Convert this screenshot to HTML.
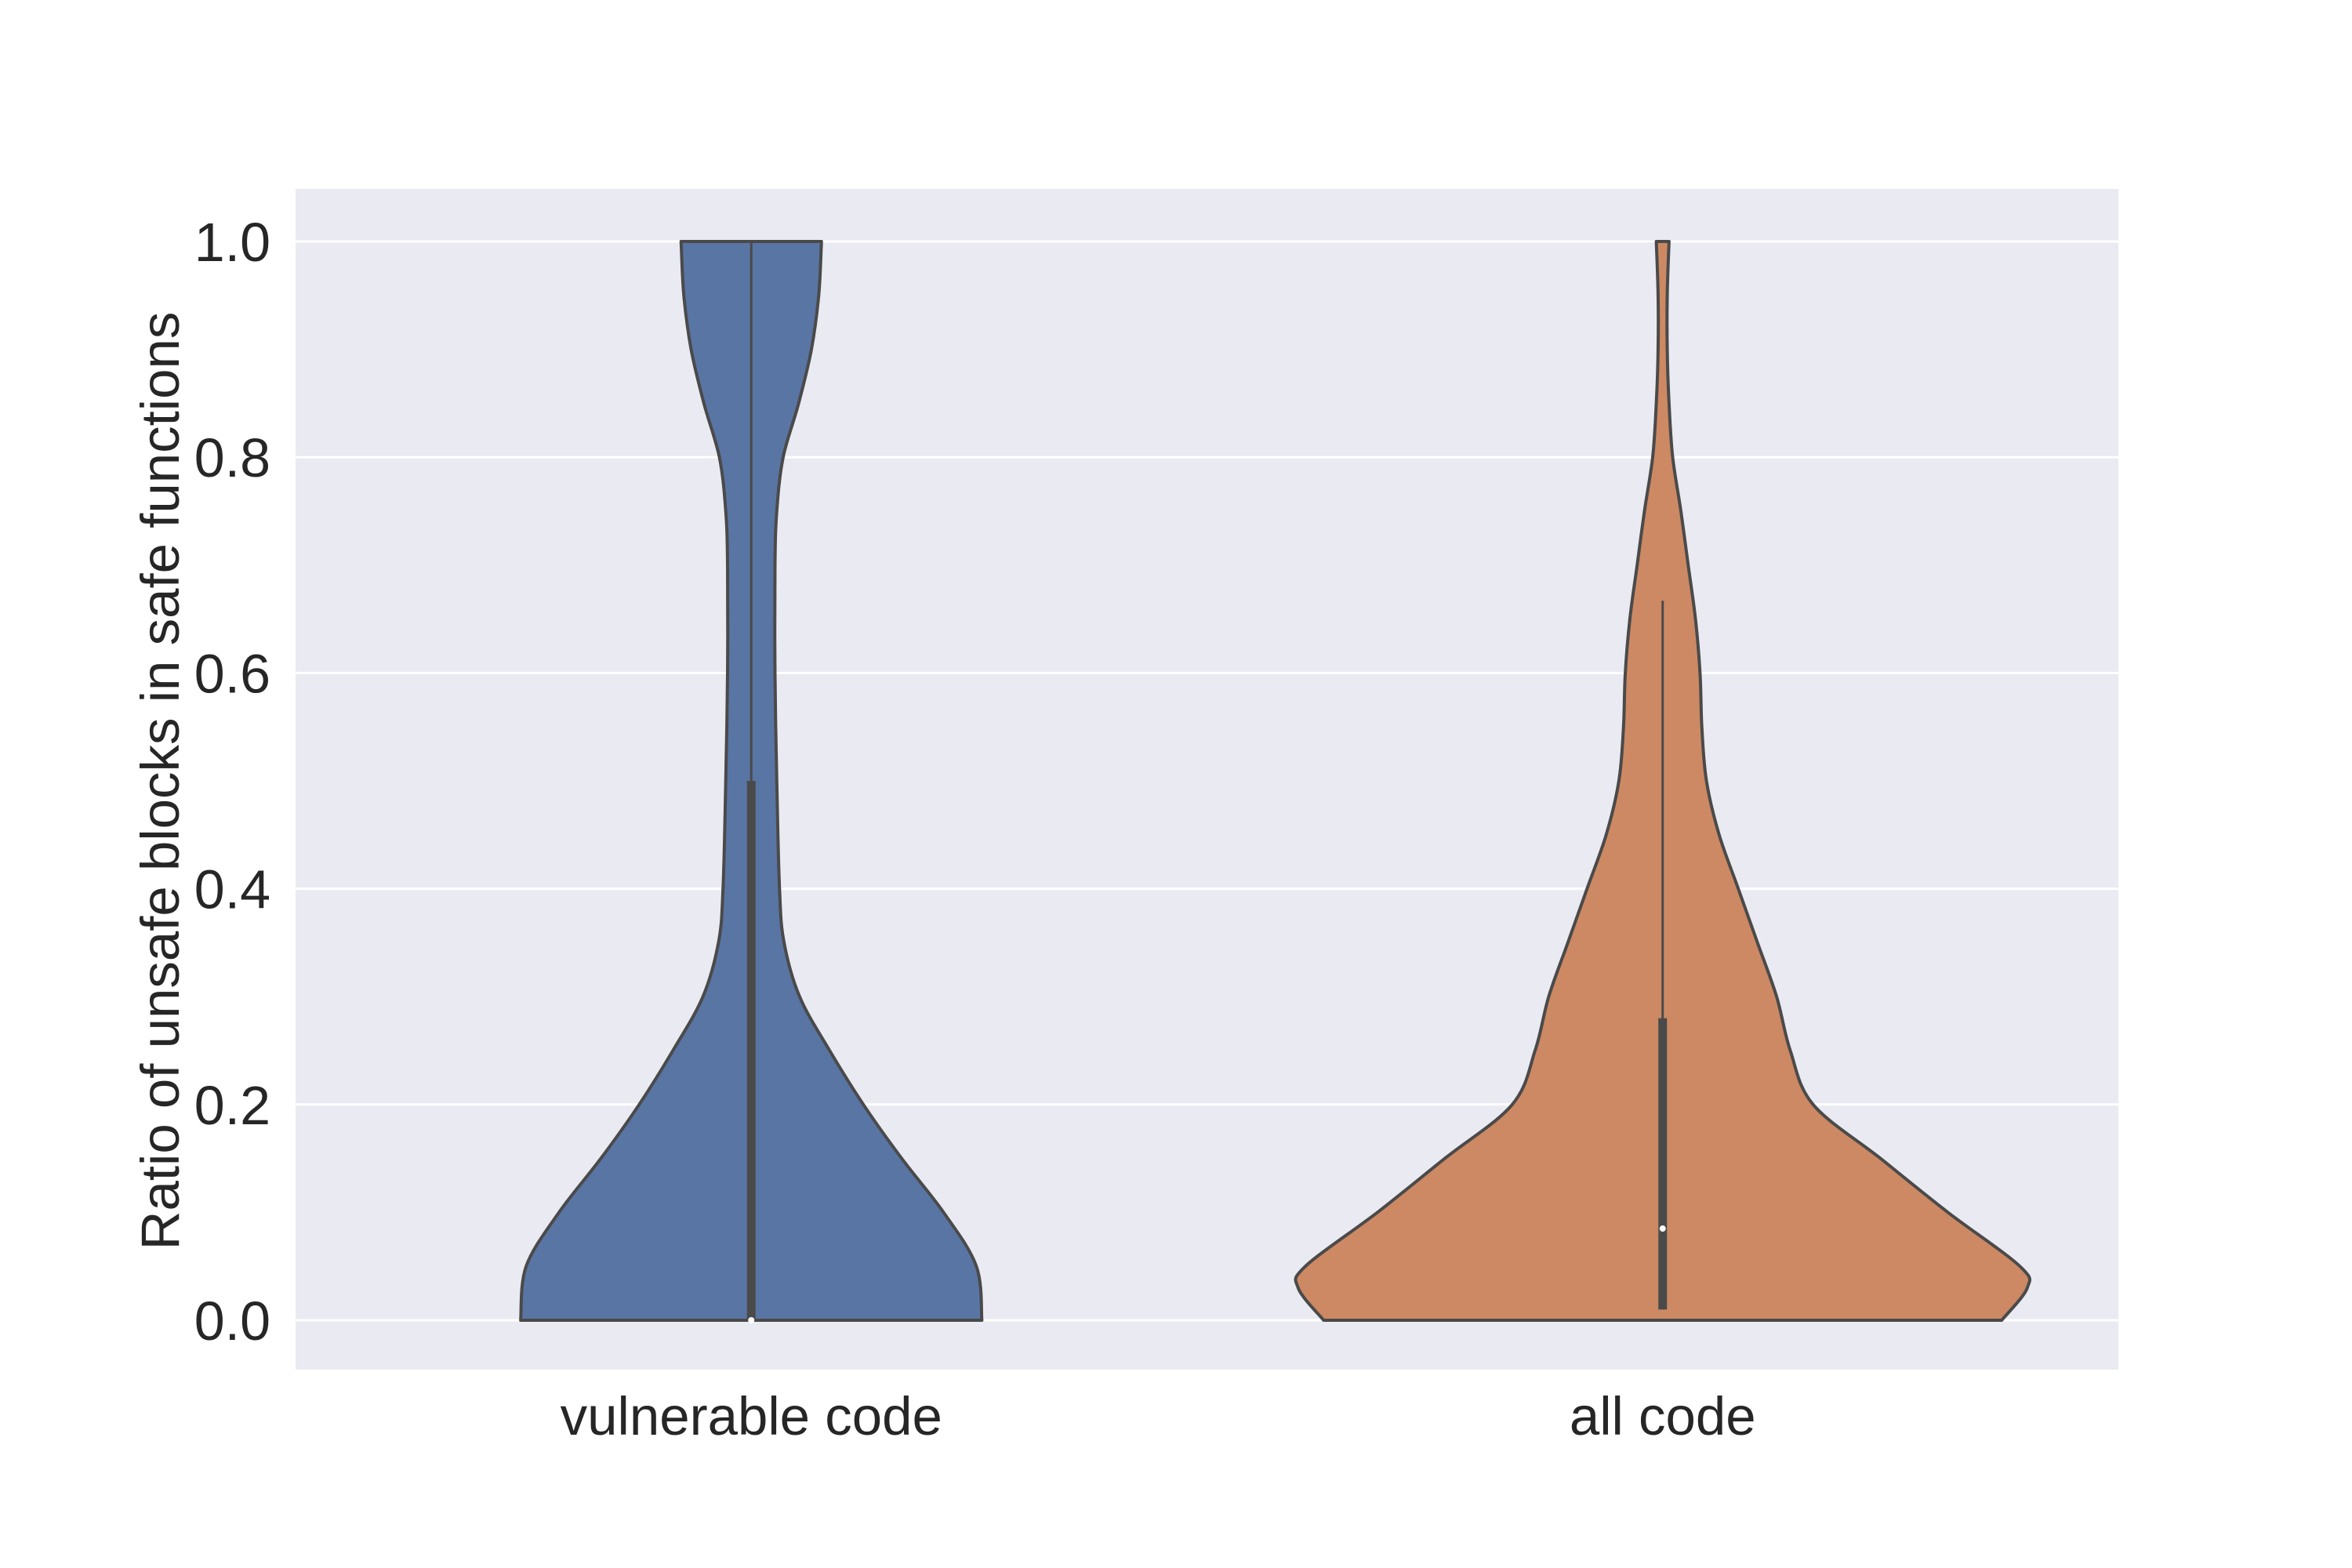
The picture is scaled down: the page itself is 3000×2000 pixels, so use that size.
<!DOCTYPE html>
<html><head><meta charset="utf-8"><style>
html,body{margin:0;padding:0;background:#fff;}
svg{display:block;font-family:"Liberation Sans",Arial,sans-serif;}
</style></head><body>
<svg id="chart" width="3000" height="2000" viewBox="0 0 3000 2000" xmlns="http://www.w3.org/2000/svg">
<rect x="377" y="241" width="2325" height="1506" fill="#eaeaf2"/>
<g id="grid"></g>
<g id="violins"></g>
<g id="yticks"></g>
<g id="xticks"></g>
<text transform="translate(228,996) rotate(-90)" text-anchor="middle" font-size="69" fill="#262626">Ratio of unsafe blocks in safe functions</text>
</svg>
<script>
const categories = ["vulnerable code", "all code"];
const colors = ["#5975a4", "#cc8963"];
const yTicks = [0, 0.2, 0.4, 0.6, 0.8, 1.0];
const yTickLabels = ["0.0", "0.2", "0.4", "0.6", "0.8", "1.0"];
const vulnY = [0, 0.05, 0.1, 0.15, 0.2, 0.25, 0.3, 0.35, 0.4, 0.5, 0.6, 0.7, 0.75, 0.8, 0.85, 0.9, 0.95, 1.0];
const vulnHW = [0.253, 0.247, 0.211, 0.165, 0.123, 0.086, 0.053, 0.036, 0.031, 0.028, 0.026, 0.026, 0.028, 0.035, 0.052, 0.066, 0.074, 0.077];
const allY = [0, 0.03, 0.05, 0.1, 0.15, 0.2, 0.25, 0.3, 0.35, 0.4, 0.45, 0.5, 0.55, 0.6, 0.65, 0.7, 0.75, 0.8, 0.85, 0.9, 0.95, 1.0];
const allHW = [0.372, 0.4, 0.392, 0.313, 0.239, 0.165, 0.14, 0.125, 0.104, 0.083, 0.062, 0.048, 0.043, 0.041, 0.036, 0.028, 0.02, 0.011, 0.007, 0.005, 0.005, 0.007];
const boxQ1 = [0, 0.01];
const boxQ3 = [0.5, 0.28];
const whiskLo = [0, 0.01];
const whiskHi = [1.0, 0.667];
const medians = [0, 0.085];

const NS = "http://www.w3.org/2000/svg";
const PL = 377, PR = 2702;
function yScale(v){ return 1684 - v * 1376; }
function xCenter(i){ return PL + (i + 0.5) * (PR - PL) / categories.length; }
function wScale(w){ return w * (PR - PL) / categories.length; }
function mk(tag, attrs, parent){ const e = document.createElementNS(NS, tag); for (const k in attrs) e.setAttribute(k, attrs[k]); parent.appendChild(e); return e; }
function catmull(pts){
  let d = "";
  for (let i = 0; i < pts.length - 1; i++) {
    const p0 = pts[Math.max(i - 1, 0)], p1 = pts[i], p2 = pts[i + 1], p3 = pts[Math.min(i + 2, pts.length - 1)];
    const c1 = [p1[0] + (p2[0] - p0[0]) / 6, p1[1] + (p2[1] - p0[1]) / 6];
    const c2 = [p2[0] - (p3[0] - p1[0]) / 6, p2[1] - (p3[1] - p1[1]) / 6];
    d += " C" + c1[0].toFixed(1) + "," + c1[1].toFixed(1) + " " + c2[0].toFixed(1) + "," + c2[1].toFixed(1) + " " + p2[0].toFixed(1) + "," + p2[1].toFixed(1);
  }
  return d;
}

const grid = document.getElementById('grid');
const yt = document.getElementById('yticks');
yTicks.forEach((t, i) => {
  const l = mk('line', {x1: PL, x2: PR, y1: yScale(t), y2: yScale(t), stroke: '#fff', 'stroke-width': 3}, grid);
  
  
  const tx = mk('text', {x: 345, y: yScale(t) + 25, 'text-anchor': 'end', 'font-size': 70, fill: '#262626'}, yt);
  tx.textContent = yTickLabels[i];
  
  
});

const xt = document.getElementById('xticks');
categories.forEach((c, i) => {
  const tx = mk('text', {x: xCenter(i), y: 1830, 'text-anchor': 'middle', 'font-size': 69, fill: '#262626'}, xt);
  tx.textContent = c;
  
  
});

const vg = document.getElementById('violins');
const profiles = [[vulnY, vulnHW], [allY, allHW]];
profiles.forEach((p, i) => {
  const cx = xCenter(i), ys = p[0], hw = p[1];
  const right = [], left = [];
  for (let k = 0; k < ys.length; k++) right.push([cx + wScale(hw[k]), yScale(ys[k])]);
  for (let k = ys.length - 1; k >= 0; k--) left.push([cx - wScale(hw[k]), yScale(ys[k])]);
  let d = "M" + right[0][0].toFixed(1) + "," + right[0][1].toFixed(1) + catmull(right);
  d += " L" + left[0][0].toFixed(1) + "," + left[0][1].toFixed(1) + catmull(left) + " Z";
  const path = mk('path', {d: d, fill: colors[i], stroke: '#4a4a4a', 'stroke-width': 4, 'stroke-linejoin': 'round'}, vg);
  
  
  const w = mk('line', {x1: cx, x2: cx, y1: yScale(whiskLo[i]), y2: yScale(whiskHi[i]), stroke: '#4a4a4a', 'stroke-width': 3}, vg);
  
  
  const b = mk('line', {x1: cx, x2: cx, y1: yScale(boxQ1[i]), y2: yScale(boxQ3[i]), stroke: '#4a4a4a', 'stroke-width': 11}, vg);
  
  
  const m = mk('circle', {cx: cx, cy: yScale(medians[i]), r: 4, fill: '#fff'}, vg);
  
  
});
</script>
</body></html>
